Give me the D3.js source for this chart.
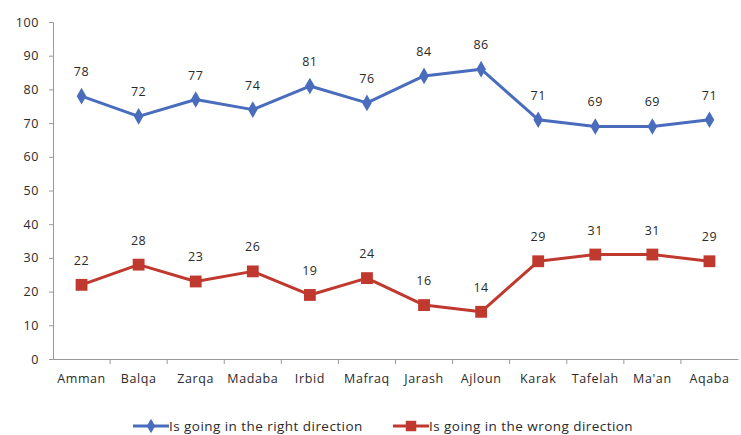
<!DOCTYPE html>
<html><head><meta charset="utf-8">
<script src="https://cdn.jsdelivr.net/npm/d3@7"></script>
<style>body{margin:0;background:#fff}svg{display:block}text{font-family:"Open Sans","Liberation Sans",sans-serif;fill:#2a2a2a}</style>
</head><body><svg id="c" width="741" height="435"></svg>
<script>
const categories = ["Amman","Balqa","Zarqa","Madaba","Irbid","Mafraq","Jarash","Ajloun","Karak","Tafelah","Ma'an","Aqaba"];
const rightDirection = [78,72,77,74,81,76,84,86,71,69,69,71];
const wrongDirection = [22,28,23,26,19,24,16,14,29,31,31,29];
const yTicks = [0,10,20,30,40,50,60,70,80,90,100];
const seriesNames = ["Is going in the right direction","Is going in the wrong direction"];

const svg = d3.select("#c");
const x = d3.scaleBand().domain(categories).range([53, 738]);
const y = d3.scaleLinear().domain([0,100]).range([359, 22]);
const cx = d => x(d) + x.bandwidth()/2;

// y axis
const ya = svg.append("g").attr("transform","translate(53,0)")
  .call(d3.axisLeft(y).tickValues(yTicks).tickSize(4).tickPadding(10));
ya.selectAll("path,line").attr("stroke","#999");
ya.selectAll("text").attr("font-size",12.5).attr("letter-spacing",0.6).style("fill","#2a2a2a");

// x axis
const xa = svg.append("g").attr("transform","translate(0,359)")
  .call(d3.axisBottom(x).tickSize(0).tickPadding(15));
xa.select("path").attr("stroke","#999");
xa.selectAll("text").attr("font-size",12.5).attr("letter-spacing",0.6).style("fill","#2a2a2a");
xa.selectAll(".tk").data(categories.slice(1)).enter().append("line")
  .attr("x1",d=>x(d)).attr("x2",d=>x(d)).attr("y1",0).attr("y2",5).attr("stroke","#999");

const series = [
  {vals: rightDirection, color:"#4a6cbd", marker:"diamond"},
  {vals: wrongDirection, color:"#c0392f", marker:"square"}
];
const line = d3.line().x((d,i)=>cx(categories[i])).y(d=>y(d));
series.forEach(s=>{
  svg.append("path").attr("d", line(s.vals)).attr("fill","none")
    .attr("stroke", s.color).attr("stroke-width",3).attr("stroke-linejoin","round");
  const sym = s.marker==="diamond" ? d3.symbol().type(d3.symbolDiamond).size(80) : d3.symbol().type(d3.symbolSquare).size(140);
  svg.selectAll(null).data(s.vals).enter().append("path")
    .attr("d", sym).attr("transform",(d,i)=>`translate(${cx(categories[i])},${y(d)})`)
    .attr("fill", s.color);
  svg.selectAll(null).data(s.vals).enter().append("text")
    .attr("x",(d,i)=>cx(categories[i])).attr("y", d=>y(d)-20)
    .attr("text-anchor","middle").attr("font-size",12.5).attr("letter-spacing",0.6).text(d=>d);
});

// legend
const lg = [{x:133, s:series[0], name:seriesNames[0]},{x:393, s:series[1], name:seriesNames[1]}];
lg.forEach(l=>{
  const g = svg.append("g").attr("transform",`translate(${l.x},426)`);
  g.append("line").attr("x1",0).attr("x2",36).attr("stroke",l.s.color).attr("stroke-width",3);
  const sym = l.s.marker==="diamond" ? d3.symbol().type(d3.symbolDiamond).size(60) : d3.symbol().type(d3.symbolSquare).size(110);
  g.append("path").attr("d",sym).attr("transform","translate(18,0)").attr("fill",l.s.color);
  g.append("text").attr("x",36).attr("y",4.5).attr("font-size",13.5).attr("letter-spacing",0.45).text(l.name);
});
</script></body></html>
